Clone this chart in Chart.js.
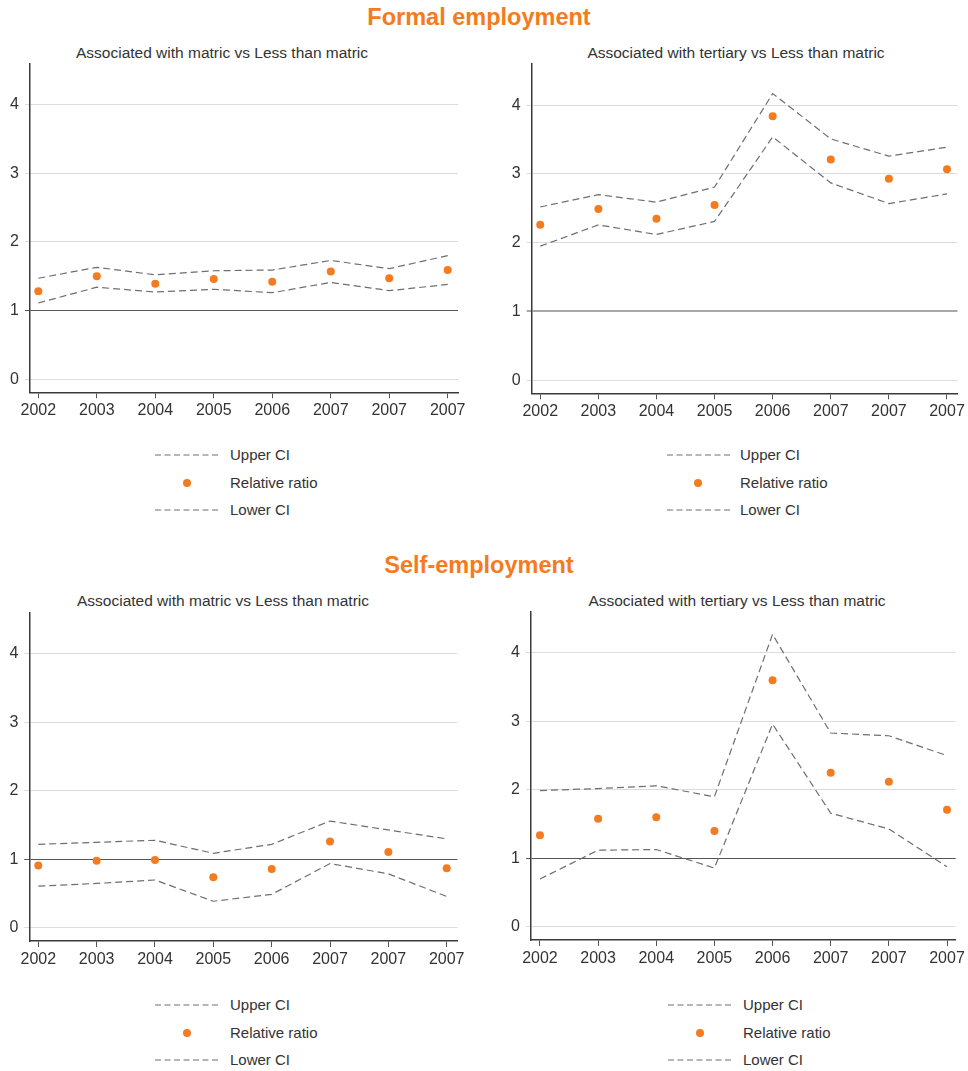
<!DOCTYPE html>
<html>
<head>
<meta charset="utf-8">
<script src="https://cdn.jsdelivr.net/npm/chart.js@4/dist/chart.umd.min.js"></script>
<style>
  html, body { margin: 0; padding: 0; background: #ffffff; }
  body { width: 968px; height: 1071px; position: relative; overflow: hidden; font-family: "Liberation Sans", Arial, sans-serif; color: #333; }
  .box { position: absolute; }
  .title { position: absolute; left: -5px; width: 968px; text-align: center; color: #F47B20; font-weight: bold; font-size: 23.5px; line-height: 28px; }
  .sub { position: absolute; font-size: 15.5px; line-height: 18px; color: #333; white-space: nowrap; transform: translateX(-50%); }
  .leg { position: absolute; font-size: 15px; line-height: 18px; color: #333; white-space: nowrap; }
</style>
</head>
<body>
<div class="title" style="top:3px;">Formal employment</div>
<div class="title" style="top:551px;">Self-employment</div>

<div class="sub" style="left:222px; top:44px;">Associated with matric vs Less than matric</div>
<div class="sub" style="left:736px; top:44px;">Associated with tertiary vs Less than matric</div>
<div class="sub" style="left:223px; top:592px;">Associated with matric vs Less than matric</div>
<div class="sub" style="left:737px; top:592px;">Associated with tertiary vs Less than matric</div>

<div class="box" style="left:0px; top:40px; width:480px; height:400px;"><canvas id="c1" width="480" height="400"></canvas></div>
<div class="box" style="left:500px; top:40px; width:468px; height:400px;"><canvas id="c2" width="468" height="400"></canvas></div>
<div class="box" style="left:0px; top:589px; width:480px; height:400px;"><canvas id="c3" width="480" height="400"></canvas></div>
<div class="box" style="left:500px; top:589px; width:468px; height:400px;"><canvas id="c4" width="468" height="400"></canvas></div>

<div id="legends"></div>

<script>
// ---- Data ----
const years = ['2002', '2003', '2004', '2005', '2006', '2007', '2007', '2007'];
const yTicks = [0, 1, 2, 3, 4];
const legendLabels = ['Upper CI', 'Relative ratio', 'Lower CI'];

// Formal employment - matric vs less than matric
const formalMatricUpper = [1.47, 1.63, 1.52, 1.58, 1.59, 1.73, 1.61, 1.80];
const formalMatricRatio = [1.28, 1.50, 1.39, 1.46, 1.42, 1.57, 1.47, 1.59];
const formalMatricLower = [1.11, 1.34, 1.27, 1.31, 1.26, 1.41, 1.29, 1.38];

// Formal employment - tertiary vs less than matric
const formalTertiaryUpper = [2.52, 2.70, 2.59, 2.81, 4.17, 3.51, 3.26, 3.39];
const formalTertiaryRatio = [2.26, 2.49, 2.35, 2.55, 3.84, 3.21, 2.93, 3.07];
const formalTertiaryLower = [1.95, 2.26, 2.12, 2.31, 3.54, 2.87, 2.57, 2.71];

// Self-employment - matric vs less than matric
const selfMatricUpper = [1.22, 1.25, 1.28, 1.09, 1.22, 1.56, 1.43, 1.30];
const selfMatricRatio = [0.91, 0.98, 0.99, 0.74, 0.86, 1.26, 1.11, 0.87];
const selfMatricLower = [0.61, 0.65, 0.70, 0.39, 0.49, 0.94, 0.79, 0.46];

// Self-employment - tertiary vs less than matric
const selfTertiaryUpper = [1.99, 2.02, 2.06, 1.90, 4.27, 2.83, 2.79, 2.50];
const selfTertiaryRatio = [1.34, 1.58, 1.60, 1.40, 3.60, 2.25, 2.12, 1.71];
const selfTertiaryLower = [0.70, 1.12, 1.13, 0.86, 2.96, 1.66, 1.43, 0.88];

// ---- Styling ----
const ORANGE = '#F47B20';
const CI_COLOR = '#6e6e6e';
const FONT = { family: "'Liberation Sans', Arial, sans-serif", size: 16 };

function pts(arr) { return arr.map((v, i) => ({ x: i, y: v })); }

function makeChart(id, upper, ratio, lower, g) {
  const ctx = document.getElementById(id).getContext('2d');
  return new Chart(ctx, {
    type: 'line',
    data: {
      datasets: [
        { label: legendLabels[1], data: pts(ratio), showLine: false, pointRadius: 4, pointHoverRadius: 4,
          pointBackgroundColor: ORANGE, pointBorderWidth: 0, borderColor: ORANGE, backgroundColor: ORANGE, order: 0 },
        { label: legendLabels[0], data: pts(upper), borderColor: CI_COLOR, borderWidth: 1.2, borderDash: [7, 4],
          pointRadius: 0, tension: 0, fill: false, order: 1 },
        { label: legendLabels[2], data: pts(lower), borderColor: CI_COLOR, borderWidth: 1.2, borderDash: [7, 4],
          pointRadius: 0, tension: 0, fill: false, order: 1 }
      ]
    },
    options: {
      responsive: false,
      animation: false,
      devicePixelRatio: 1,
      layout: { padding: { top: g.top, right: g.right, left: 0, bottom: 0 } },
      plugins: { legend: { display: false }, tooltip: { enabled: false }, title: { display: false } },
      scales: {
        x: {
          type: 'linear', min: g.xmin, max: g.xmax,
          afterBuildTicks: (s) => { s.ticks = years.map((_, i) => ({ value: i })); },
          afterFit: (s) => { s.height = g.xh; },
          ticks: { font: FONT, color: '#333', padding: 3, maxRotation: 0, autoSkip: false,
                   callback: (v) => years[v] },
          grid: { drawOnChartArea: false, drawTicks: true, tickLength: 6, tickColor: '#555', tickWidth: 1 },
          border: { display: true, color: '#3a3a3a', width: 1.5 }
        },
        y: {
          type: 'linear', min: -0.19, max: 4.6,
          afterBuildTicks: (s) => { s.ticks = yTicks.map(v => ({ value: v })); },
          afterFit: (s) => { s.width = g.yw; },
          ticks: { font: FONT, color: '#333', padding: 6 },
          grid: {
            drawTicks: true, tickLength: 5,
            color: (c) => c.tick && c.tick.value === 1 ? g.oneColor : '#dcdcdc',
            tickColor: (c) => c.tick && c.tick.value === 1 ? g.oneColor : '#dcdcdc',
            lineWidth: (c) => c.tick && c.tick.value === 1 ? g.oneWidth : 1
          },
          border: { display: true, color: '#3a3a3a', width: 1.5 }
        }
      }
    }
  });
}

makeChart('c1', formalMatricUpper, formalMatricRatio, formalMatricLower,
  { top: 23.3, right: 22, yw: 30, xh: 47.7, xmin: -0.142, xmax: 7.176, oneColor: '#555', oneWidth: 1 });
makeChart('c2', formalTertiaryUpper, formalTertiaryRatio, formalTertiaryLower,
  { top: 24, right: 8.5, yw: 31.7, xh: 46.7, xmin: -0.147, xmax: 7.18, oneColor: '#a8a8a8', oneWidth: 2 });
makeChart('c3', selfMatricUpper, selfMatricRatio, selfMatricLower,
  { top: 23.7, right: 22.5, yw: 29.3, xh: 48, xmin: -0.154, xmax: 7.185, oneColor: '#555', oneWidth: 1 });
makeChart('c4', selfTertiaryUpper, selfTertiaryRatio, selfTertiaryLower,
  { top: 22.7, right: 9.3, yw: 31, xh: 49, xmin: -0.154, xmax: 7.149, oneColor: '#555', oneWidth: 1 });

// ---- HTML legends ----
const legendSpots = [
  { x1: 155, x2: 220, tx: 230, dot: 186.5, ys: [455, 482.5, 510] },
  { x1: 667, x2: 730, tx: 740, dot: 698, ys: [455, 482.5, 510] },
  { x1: 155, x2: 220, tx: 230, dot: 186.5, ys: [1005, 1032.5, 1060] },
  { x1: 668, x2: 731, tx: 743, dot: 700, ys: [1005, 1032.5, 1060] }
];
const host = document.getElementById('legends');
legendSpots.forEach(L => {
  legendLabels.forEach((lab, k) => {
    const y = L.ys[k];
    if (k === 1) {
      const d = document.createElement('div');
      d.style.cssText = `position:absolute;left:${L.dot - 4}px;top:${y - 4}px;width:8px;height:8px;border-radius:50%;background:${ORANGE};`;
      host.appendChild(d);
    } else {
      const svgNS = 'http://www.w3.org/2000/svg';
      const svg = document.createElementNS(svgNS, 'svg');
      svg.setAttribute('width', L.x2 - L.x1);
      svg.setAttribute('height', 4);
      svg.style.cssText = `position:absolute;left:${L.x1}px;top:${y - 2}px;`;
      const ln = document.createElementNS(svgNS, 'line');
      ln.setAttribute('x1', 0); ln.setAttribute('x2', L.x2 - L.x1);
      ln.setAttribute('y1', 2); ln.setAttribute('y2', 2);
      ln.setAttribute('stroke', CI_COLOR); ln.setAttribute('stroke-width', 1.2);
      ln.setAttribute('stroke-dasharray', '6 3.5');
      svg.appendChild(ln);
      host.appendChild(svg);
    }
    const t = document.createElement('div');
    t.className = 'leg';
    t.style.left = L.tx + 'px';
    t.style.top = (y - 9) + 'px';
    t.textContent = lab;
    host.appendChild(t);
  });
});
</script>
</body>
</html>
